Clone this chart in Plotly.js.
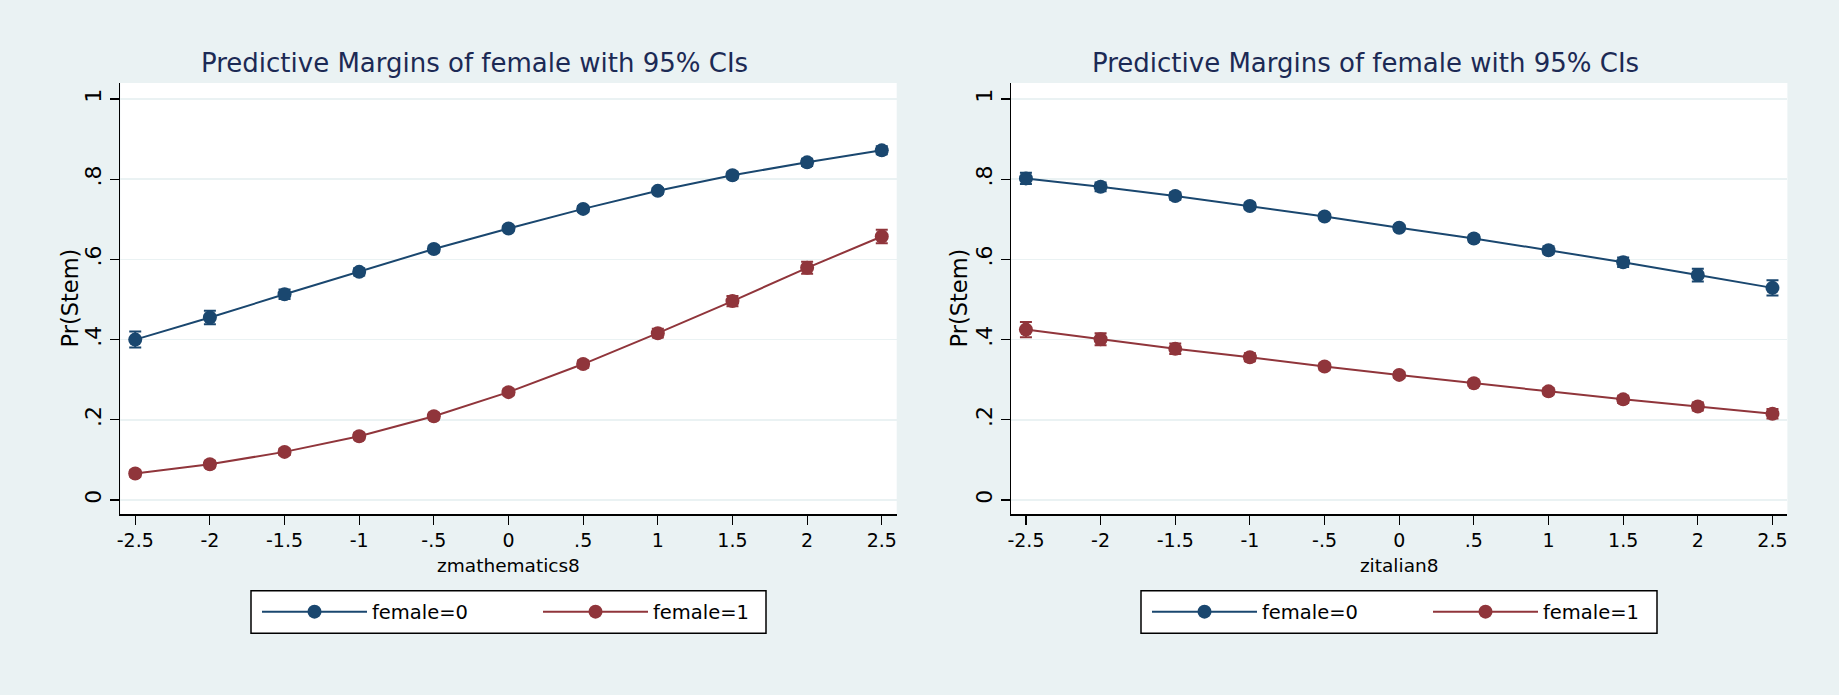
<!DOCTYPE html>
<html><head><meta charset="utf-8">
<script src="https://cdn.plot.ly/plotly-3.0.1.min.js"></script>
<style>html,body{margin:0;padding:0;background:#eaf2f3;}</style>
</head><body>
<div id="chart" style="width:1839px;height:695px;"></div>
<script>
// ---- data ----
const xValues = [-2.5, -2, -1.5, -1, -0.5, 0, 0.5, 1, 1.5, 2, 2.5];
const xTickLabels = ["-2.5", "-2", "-1.5", "-1", "-.5", "0", ".5", "1", "1.5", "2", "2.5"];
const yTickValues = [0, 0.2, 0.4, 0.6, 0.8, 1];
const yTickLabels = ["0", ".2", ".4", ".6", ".8", "1"];
const seriesNames = ["female=0", "female=1"];
const panelTitle = "Predictive Margins of female with 95% CIs";
const xTitleLeft = "zmathematics8";
const xTitleRight = "zitalian8";
const yTitle = "Pr(Stem)";

// left panel: zmathematics8
const mathFemale0 = [0.400, 0.455, 0.513, 0.569, 0.626, 0.677, 0.726, 0.771, 0.810, 0.842, 0.872];
const mathFemale0CI = [0.020, 0.017, 0.012, 0.009, 0.008, 0.007, 0.007, 0.007, 0.008, 0.009, 0.010];
const mathFemale1 = [0.066, 0.089, 0.120, 0.159, 0.209, 0.269, 0.339, 0.416, 0.496, 0.579, 0.657];
const mathFemale1CI = [0.008, 0.008, 0.008, 0.008, 0.008, 0.008, 0.009, 0.011, 0.013, 0.015, 0.017];

// right panel: zitalian8
const itaFemale0 = [0.802, 0.781, 0.758, 0.733, 0.707, 0.679, 0.652, 0.623, 0.593, 0.561, 0.529];
const itaFemale0CI = [0.014, 0.011, 0.009, 0.008, 0.007, 0.007, 0.008, 0.009, 0.012, 0.016, 0.019];
const itaFemale1 = [0.425, 0.401, 0.377, 0.356, 0.333, 0.312, 0.291, 0.271, 0.251, 0.233, 0.215];
const itaFemale1CI = [0.019, 0.015, 0.013, 0.010, 0.008, 0.007, 0.007, 0.008, 0.009, 0.010, 0.012];

// ---- style ----
const NAVY = "#1a476f";
const MAROON = "#90353b";
const BG = "#eaf2f3";
const FONT = "DejaVu Sans, Liberation Sans, Arial, sans-serif";

function mk(x, y, ci, name, color, xa, ya, legend, lw) {
  return {
    type: "scatter", mode: "lines+markers", x: x, y: y, name: name,
    xaxis: xa, yaxis: ya, legend: legend, legendwidth: lw,
    line: {color: color, width: 2},
    marker: {color: color, size: 14, symbol: "circle"},
    error_y: {type: "data", array: ci, visible: true, color: color, thickness: 2, width: 6},
    hoverinfo: "skip"
  };
}

const traces = [
  mk(xValues, mathFemale0, mathFemale0CI, seriesNames[0], NAVY, "x", "y", "legend", 161),
  mk(xValues, mathFemale1, mathFemale1CI, seriesNames[1], MAROON, "x", "y", "legend", 100),
  mk(xValues, itaFemale0, itaFemale0CI, seriesNames[0], NAVY, "x2", "y2", "legend2", 161),
  mk(xValues, itaFemale1, itaFemale1CI, seriesNames[1], MAROON, "x2", "y2", "legend2", 100)
];

const W = 1839, H = 695;
const px = v => v / W;
const py = v => 1 - v / H;

function xax(domain, title) {
  return {
    domain: domain, range: [-2.6, 2.6], tickmode: "array",
    tickvals: xValues, ticktext: xTickLabels,
    ticks: "outside", ticklen: 9, tickwidth: 1.2, tickcolor: "#000",
    showline: true, linecolor: "#000", linewidth: 1.5, mirror: false,
    showgrid: false, zeroline: false,
    tickfont: {family: FONT, size: 19, color: "#000"},
    title: {text: title, font: {family: FONT, size: 18.5, color: "#000"}, standoff: 9},
    fixedrange: true
  };
}
function yax(anchor) {
  return {
    domain: [py(514), py(83)], range: [-0.0349, 1.0399], anchor: anchor,
    tickmode: "array", tickvals: yTickValues, ticktext: yTickLabels, tickangle: -90,
    ticks: "outside", ticklen: 9, tickwidth: 1.2, tickcolor: "#000",
    showline: true, linecolor: "#000", linewidth: 1.5, mirror: false,
    showgrid: true, gridcolor: BG, gridwidth: 1.5, zeroline: false,
    tickfont: {family: FONT, size: 22, color: "#000"}, ticklabelstandoff: 0,
    title: {text: ""},
    fixedrange: true
  };
}

function legendBox(x0, x1) {
  return {type: "rect", xref: "paper", yref: "paper", x0: px(x0), x1: px(x1), y0: py(633.3), y1: py(590.7),
          fillcolor: "#ffffff", line: {color: "#000", width: 1.5}, layer: "below"};
}
function legendCfg(xLeft) {
  return {
    orientation: "h", x: px(xLeft), xanchor: "left", y: py(612), yanchor: "middle",
    bgcolor: "rgba(0,0,0,0)", borderwidth: 0, itemwidth: 105,
    font: {family: FONT, size: 19.5, color: "#000"}, itemclick: false, itemdoubleclick: false
  };
}
function titleAnn(xc, text) {
  return {text: text, xref: "paper", yref: "paper", x: px(xc), y: py(63), xanchor: "center", yanchor: "middle",
          showarrow: false, font: {family: FONT, size: 26, color: "#1c2a55"}};
}
function yTitleAnn(xc) {
  return {text: yTitle, xref: "paper", yref: "paper", x: px(xc), y: py(298.5), xanchor: "center", yanchor: "middle",
          textangle: -90, showarrow: false, font: {family: FONT, size: 22.5, color: "#000"}};
}

const layout = {
  width: W, height: H, margin: {l: 0, r: 0, t: 0, b: 0},
  paper_bgcolor: BG, plot_bgcolor: "#ffffff",
  font: {family: FONT, color: "#000"},
  showlegend: true,
  xaxis: xax([px(120.3), px(896.7)], xTitleLeft),
  yaxis: yax("x"),
  xaxis2: Object.assign(xax([px(1011), px(1787.4)], xTitleRight), {anchor: "y2"}),
  yaxis2: yax("x2"),
  legend: legendCfg(257),
  legend2: legendCfg(1147),
  shapes: [legendBox(251, 766), legendBox(1141, 1657)],
  annotations: [titleAnn(474.5, panelTitle), titleAnn(1365, panelTitle), yTitleAnn(69), yTitleAnn(958)],
  hovermode: false
};

Plotly.newPlot("chart", traces, layout, {staticPlot: true, displayModeBar: false});
</script>
</body></html>
